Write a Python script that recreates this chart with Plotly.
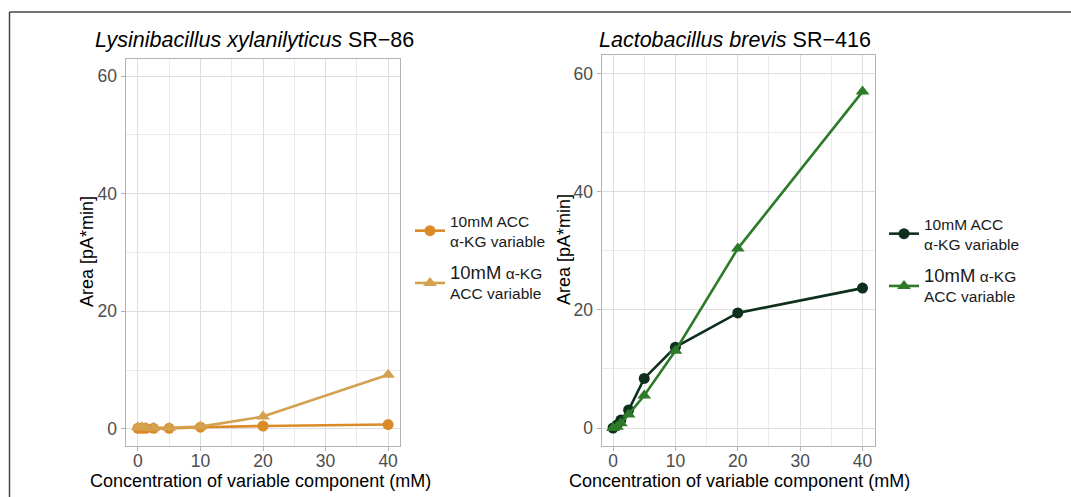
import plotly.graph_objects as go

W, H = 1071, 497

# Concentration of the variable component (mM)
conc = [0, 0.625, 1.25, 2.5, 5, 10, 20, 40]

# Lysinibacillus xylanilyticus SR-86
lys_acc_fixed = [0.1, 0.1, 0.1, 0.1, 0.1, 0.3, 0.5, 0.75]   # 10mM ACC, α-KG variable
lys_akg_fixed = [0.3, 0.3, 0.2, 0.2, 0.2, 0.4, 2.1, 9.2]    # 10mM α-KG, ACC variable

# Lactobacillus brevis SR-416
lac_acc_fixed = [0.0, 0.5, 1.35, 3.05, 8.4, 13.7, 19.5, 23.7]
lac_akg_fixed = [0.0, 0.2, 0.8, 2.3, 5.5, 13.1, 30.4, 57.0]

x_ticks = [0, 10, 20, 30, 40]
y_ticks = [0, 20, 40, 60]

titles = ["<i>Lysinibacillus xylanilyticus</i> SR\u221286",
          "<i>Lactobacillus brevis</i> SR\u2212416"]
label_acc = "10mM ACC<br>\u03b1-KG variable"
label_akg = "<span style=\"font-size:18.5px\">10mM</span> \u03b1-KG<br>ACC variable"

col = {
    "lys_acc": "#DA8A27",
    "lys_akg": "#D4A14F",
    "lac_acc": "#0D2F1B",
    "lac_akg": "#2E7A2B",
}

FONT = "Liberation Sans, Arial, sans-serif"


def px(x):
    return x / W


def py(y):
    return 1 - y / H


fig = go.Figure()

# left panel
fig.add_trace(go.Scatter(x=conc, y=lys_acc_fixed, mode="lines+markers", name=label_acc,
                         line=dict(color=col["lys_acc"], width=2.6),
                         marker=dict(symbol="circle", size=11, color=col["lys_acc"]),
                         xaxis="x", yaxis="y", legend="legend", legendgroup="a1"))
fig.add_trace(go.Scatter(x=conc, y=lys_akg_fixed, mode="lines+markers", name=label_akg,
                         line=dict(color=col["lys_akg"], width=2.6),
                         marker=dict(symbol="triangle-up", size=12, color=col["lys_akg"]),
                         xaxis="x", yaxis="y", legend="legend", legendgroup="a2"))
# right panel
fig.add_trace(go.Scatter(x=conc, y=lac_acc_fixed, mode="lines+markers", name=label_acc,
                         line=dict(color=col["lac_acc"], width=2.6),
                         marker=dict(symbol="circle", size=11, color=col["lac_acc"]),
                         xaxis="x2", yaxis="y2", legend="legend2", legendgroup="b1"))
fig.add_trace(go.Scatter(x=conc, y=lac_akg_fixed, mode="lines+markers", name=label_akg,
                         line=dict(color=col["lac_akg"], width=2.6),
                         marker=dict(symbol="triangle-up", size=12, color=col["lac_akg"]),
                         xaxis="x2", yaxis="y2", legend="legend2", legendgroup="b2"))

tick_font = dict(family=FONT, size=17.5, color="#4D4D4D")


def xaxis(dom, rng, anchor):
    return dict(domain=dom, range=rng, anchor=anchor, tickvals=x_ticks,
                showline=True, mirror=True, linecolor="#B3B3B3", linewidth=1,
                ticks="outside", ticklen=4, tickcolor="#B3B3B3", tickfont=tick_font,
                ticklabelstandoff=-5,
                showgrid=True, gridcolor="#DEDEDE", gridwidth=1, zeroline=False,
                minor=dict(dtick=5, tick0=0, showgrid=True, gridcolor="#EBEBEB", gridwidth=0.8),
                fixedrange=True)


def yaxis(dom, rng, anchor):
    return dict(domain=dom, range=rng, anchor=anchor, tickvals=y_ticks,
                showline=True, mirror=True, linecolor="#B3B3B3", linewidth=1,
                ticks="outside", ticklen=4, tickcolor="#B3B3B3", tickfont=tick_font,
                showgrid=True, gridcolor="#DEDEDE", gridwidth=1, zeroline=False,
                minor=dict(dtick=10, tick0=0, showgrid=True, gridcolor="#EBEBEB", gridwidth=0.8),
                fixedrange=True)


legend_common = dict(xanchor="left", yanchor="top", bgcolor="rgba(0,0,0,0)",
                     font=dict(family=FONT, size=15.5, color="#1A1A1A"),
                     traceorder="grouped", itemwidth=30, tracegroupgap=9, itemclick=False)

fig.update_layout(
    width=W, height=H,
    margin=dict(l=0, r=0, t=0, b=0),
    paper_bgcolor="white", plot_bgcolor="white",
    font=dict(family=FONT),
    xaxis=xaxis([px(125.5), px(400)], [-1.98, 41.9], "y"),
    yaxis=yaxis([py(446), py(59)], [-2.9, 62.9], "x"),
    xaxis2=xaxis([px(601.5), px(875)], [-1.85, 42.0], "y2"),
    yaxis2=yaxis([py(446), py(55)], [-3.05, 63.2], "x2"),
    legend=dict(x=px(410), y=py(204), **legend_common),
    legend2=dict(x=px(884), y=py(207), **legend_common),
    showlegend=True,
)

ann = []
# panel titles
ann.append(dict(text=titles[0], x=px(93), y=py(40), xref="paper", yref="paper",
                xanchor="left", yanchor="middle", showarrow=False,
                font=dict(family=FONT, size=21.5, color="#000000")))
ann.append(dict(text=titles[1], x=px(597), y=py(40), xref="paper", yref="paper",
                xanchor="left", yanchor="middle", showarrow=False,
                font=dict(family=FONT, size=21.5, color="#000000")))
# axis titles
for xc, yc in [(87, 252), (564, 250)]:
    ann.append(dict(text="Area [pA*min]", x=px(xc), y=py(yc), xref="paper", yref="paper",
                    xanchor="center", yanchor="middle", textangle=-90, showarrow=False,
                    font=dict(family=FONT, size=18, color="#000000")))
for xc in [260, 739]:
    ann.append(dict(text="Concentration of variable component (mM)", x=px(xc), y=py(481),
                    xref="paper", yref="paper", xanchor="center", yanchor="middle",
                    showarrow=False, font=dict(family=FONT, size=18, color="#000000")))
fig.update_layout(annotations=ann)

# outer frame (top and left edges)
fig.add_shape(type="line", xref="paper", yref="paper", x0=px(9.5), x1=px(9.5), y0=0, y1=py(12),
              line=dict(color="#444444", width=1.5))
fig.add_shape(type="line", xref="paper", yref="paper", x0=px(9.5), x1=1, y0=py(12), y1=py(12),
              line=dict(color="#444444", width=1.5))

fig.write_html("out.html", config={"displayModeBar": False})
